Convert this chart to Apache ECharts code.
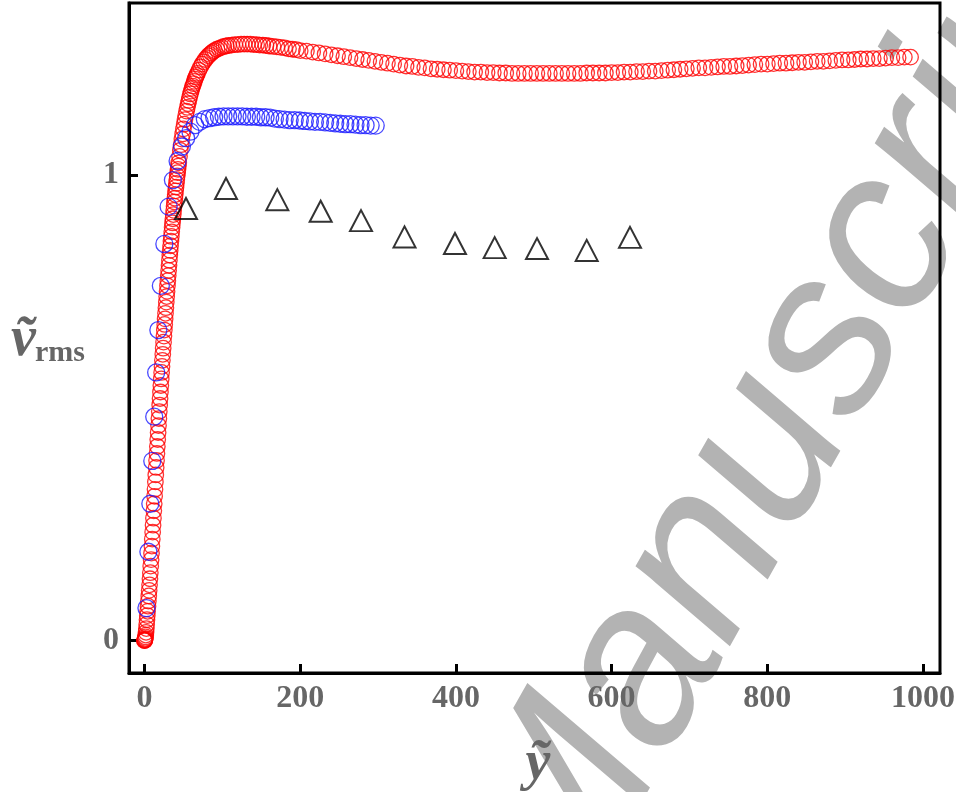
<!DOCTYPE html>
<html><head><meta charset="utf-8">
<script src="https://cdn.jsdelivr.net/npm/echarts@6/dist/echarts.min.js"></script>
<style>html,body{margin:0;padding:0;background:#fff}#c{width:956px;height:792px}</style>
</head><body><div id="c"></div>
<script>
const xTicks = [0, 200, 400, 600, 800, 1000];
const yTicks = [0, 1];
const xTitle = 'ỹ';
const yTitleMain = 'ṽ';
const yTitleSub = 'rms';
const watermark = 'Manuscript';

// red circles: [y~, v~rms]
const redPts = [
[0,0],[0.1,0],[0.25,0.001],[0.45,0.002],[0.7,0.003],[1.0,0.005],[1.3,0.008],[1.65,0.012],[2.0,0.018],[2.4,0.026],
[2.8,0.035],[3.2,0.045],[3.6,0.054],[4.0,0.063],[4.5,0.074],[5,0.085],[5.5,0.096],[6,0.108],[6.5,0.12],[7,0.133],
[7.5,0.146],[8,0.16],[8.5,0.174],[9,0.188],[9.5,0.203],[10,0.218],[10.5,0.233],[11,0.248],[11.5,0.263],[12,0.279],
[12.5,0.294],[13,0.31],[13.5,0.325],[14,0.341],[14.5,0.356],[15,0.372],[15.5,0.387],[16,0.402],[16.5,0.417],[17,0.432],
[17.5,0.447],[18,0.462],[18.5,0.477],[19,0.492],[19.5,0.506],[20,0.52],[20.5,0.534],[21,0.548],[21.5,0.562],[22,0.576],
[22.5,0.589],[23,0.602],[23.5,0.615],[24,0.628],[24.5,0.641],[25,0.654],[25.5,0.667],[26,0.679],[26.5,0.691],[27,0.703],
[27.5,0.715],[28,0.727],[28.5,0.739],[29,0.75],[29.5,0.762],[30,0.773],[30.5,0.784],[31,0.795],[31.5,0.806],[32,0.817],
[32.5,0.828],[33,0.838],[33.5,0.848],[34,0.858],[34.5,0.868],[35,0.878],[35.5,0.888],[36,0.897],[36.5,0.906],[37,0.915],
[37.5,0.924],[38,0.933],[38.5,0.942],[39,0.95],[39.5,0.958],[40,0.966],[40.5,0.974],[41,0.982],[41.5,0.99],[42,0.998],
[42.5,1.005],[43,1.012],[43.5,1.019],[44,1.026],[45,1.04],[46,1.053],[47,1.065],[48,1.077],[49,1.088],[50,1.099],
[51,1.109],[52,1.119],[53,1.128],[54,1.137],[55,1.145],[56,1.153],[57,1.16],[58,1.167],[59,1.174],[60,1.18],
[61,1.186],[62,1.191],[63,1.196],[64,1.201],[65,1.206],[66,1.21],[67,1.214],[68,1.218],[70,1.225],[72,1.232],
[74,1.238],[76,1.243],[78,1.248],[80,1.252],[82,1.256],[84,1.259],[86,1.262],[88,1.265],[90,1.267],[93,1.27],
[96,1.272],[99,1.274],[102,1.276],[105,1.277],[108,1.278],[112,1.279],[116,1.28],[120,1.28],[124,1.281],[128,1.281],
[132,1.281],[136,1.281],[140,1.28],[144,1.28],[148,1.279],[152,1.279],[156,1.278],[160,1.277],[165,1.276],[170,1.275],
[175,1.274],[180,1.273],[185,1.271],[190,1.27],[195,1.269],[200,1.267],[208,1.266],[216,1.264],[224,1.262],[232,1.26],
[240,1.258],[248,1.256],[256,1.254],[264,1.252],[272,1.25],[280,1.248],[288,1.246],[296,1.244],[304,1.242],[312,1.24],
[320,1.238],[328,1.236],[336,1.234],[344,1.233],[352,1.231],[360,1.23],[368,1.228],[376,1.227],[384,1.226],[392,1.225],
[400,1.224],[408,1.223],[416,1.222],[424,1.221],[432,1.221],[440,1.22],[448,1.22],[456,1.219],[464,1.219],[472,1.218],
[480,1.218],[488,1.218],[496,1.218],[504,1.218],[512,1.218],[520,1.218],[528,1.218],[536,1.218],[544,1.218],[552,1.218],
[560,1.218],[568,1.219],[576,1.219],[584,1.219],[592,1.219],[600,1.22],[608,1.22],[616,1.221],[624,1.221],[632,1.222],
[640,1.222],[648,1.223],[656,1.223],[664,1.224],[672,1.225],[680,1.226],[688,1.227],[696,1.228],[704,1.229],[712,1.23],
[720,1.23],[728,1.231],[736,1.232],[744,1.233],[752,1.233],[760,1.234],[768,1.235],[776,1.236],[784,1.237],[792,1.238],
[800,1.238],[808,1.239],[816,1.24],[824,1.24],[832,1.241],[840,1.242],[848,1.242],[856,1.243],[864,1.244],[872,1.244],
[880,1.245],[888,1.246],[896,1.247],[904,1.247],[912,1.248],[920,1.249],[928,1.249],[936,1.25],[944,1.25],[952,1.251],
[960,1.252],[968,1.252],[976,1.253],[984,1.253]
];

// blue circles
const bluePts = [
[2.5,0.07],[5,0.191],[7.5,0.294],[10,0.386],[12.5,0.481],[15,0.576],[17.8,0.667],[21,0.762],[25.5,0.852],[31,0.932],
[36.5,0.989],[42.5,1.03],[48,1.061],[53.5,1.079],[59,1.093],[65,1.107],[71,1.114],[77.5,1.12],[83.5,1.122],[89.5,1.124],
[95.5,1.125],[101.5,1.126],[107.5,1.126],[113.5,1.126],[119.5,1.126],[125.5,1.126],[131.5,1.125],[137.5,1.125],[143.5,1.125],[149.5,1.124],
[155.5,1.124],[161.5,1.123],[167.5,1.121],[173.5,1.12],[180,1.119],[186.5,1.118],[193,1.118],[199.5,1.117],[206,1.116],[212.5,1.115],
[219,1.114],[225.5,1.114],[232,1.113],[238.5,1.112],[245,1.111],[251.5,1.11],[258,1.109],[264.5,1.109],[271,1.108],[277.5,1.107],
[284,1.107],[290.5,1.106],[297,1.106]
];

// black triangles
const triPts = [
[53.3,0.928],[104.7,0.971],[170.6,0.947],[226.3,0.922],[278.1,0.902],[334,0.867],
[398.8,0.853],[449.8,0.844],[504.2,0.842],[568,0.838],[623.6,0.866]
];

const chart = echarts.init(document.getElementById('c'), null, {renderer: 'canvas'});
const labelFont = {fontFamily: 'Liberation Serif', fontWeight: 'bold', fontSize: 32, color: '#666666', formatter: function (v) { return String(v); }};
const axisLine = {show: true, onZero: false, lineStyle: {color: '#000', width: 3}};
const axisTick = {show: true, inside: true, length: 9, lineStyle: {color: '#000', width: 3}};

chart.setOption({
  animation: false,
  backgroundColor: '#fff',
  grid: {left: 129, right: 16, top: 3, bottom: 119, outerBoundsMode: 'none', containLabel: false,
         show: true, borderColor: '#000', borderWidth: 3, backgroundColor: 'transparent'},
  xAxis: {
    type: 'value', min: -19.9, max: 1021.8,
    axisLine: axisLine,
    axisTick: Object.assign({customValues: xTicks}, axisTick),
    axisLabel: Object.assign({customValues: xTicks, margin: 10}, labelFont),
    splitLine: {show: false}
  },
  yAxis: {
    type: 'value', min: -0.0694, max: 1.3693,
    axisLine: axisLine,
    axisTick: Object.assign({customValues: yTicks}, axisTick),
    axisLabel: Object.assign({customValues: yTicks, margin: 10}, labelFont),
    splitLine: {show: false}
  },
  series: [
    {type: 'scatter', data: redPts, symbol: 'circle', symbolSize: 15.5,
     itemStyle: {color: 'rgba(0,0,0,0)', borderColor: '#ff0000', borderWidth: 1.3}, z: 2},
    {type: 'scatter', data: bluePts, symbol: 'circle', symbolSize: 17,
     itemStyle: {color: 'rgba(0,0,0,0)', borderColor: '#1a1aff', borderWidth: 1.3}, z: 3},
    {type: 'scatter', data: triPts, symbol: 'triangle', symbolSize: [22, 21],
     itemStyle: {color: 'rgba(0,0,0,0)', borderColor: '#000', borderWidth: 2}, z: 4}
  ],
  graphic: [
    {type: 'text', x: 515, y: 896, z: -10, rotation: 60.5 * Math.PI / 180, silent: true,
     style: {text: watermark, font: 'italic 230px "Liberation Sans"', fill: '#b3b3b3', textAlign: 'left', textVerticalAlign: 'middle'}},
    {type: 'text', x: 11, y: 341, z: 10, style: {text: yTitleMain, font: 'italic bold 56px "Liberation Serif"', fill: '#666666', textAlign: 'left', textVerticalAlign: 'middle'}},
    {type: 'text', x: 35, y: 353, z: 10, style: {text: yTitleSub, font: 'bold 30px "Liberation Serif"', fill: '#666666', textAlign: 'left', textVerticalAlign: 'middle'}},
    {type: 'text', x: 538, y: 765, z: 10, style: {text: xTitle, font: 'italic bold 56px "Liberation Serif"', fill: '#666666', textAlign: 'center', textVerticalAlign: 'middle'}}
  ]
});
</script>
</body></html>
